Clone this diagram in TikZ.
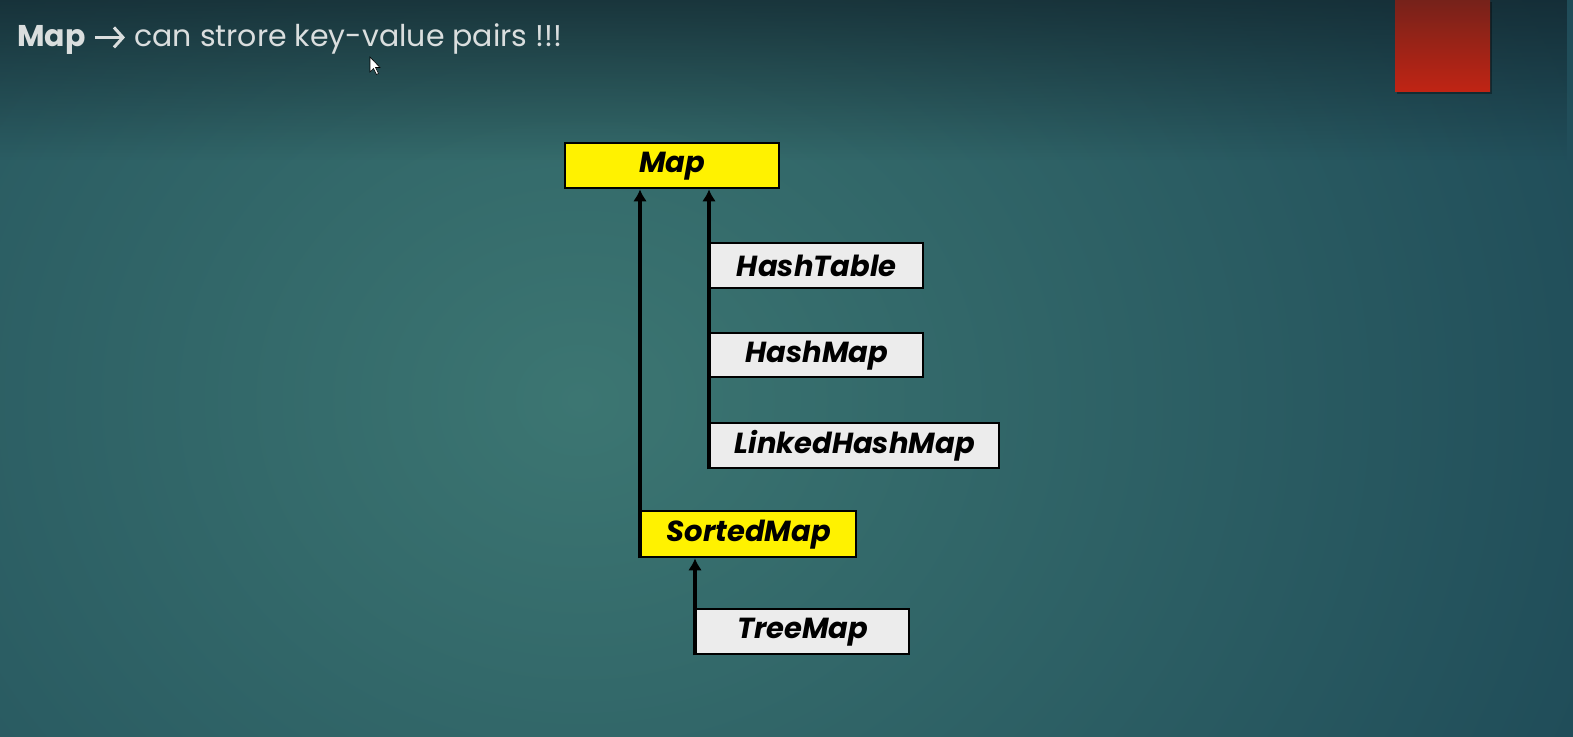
\documentclass[tikz,border=0pt]{standalone}
\usepackage{fontspec}
\setmainfont{Poppins}
\usetikzlibrary{arrows.meta,fadings}

\definecolor{bgmid}{RGB}{60,118,114}
\definecolor{bgedge}{RGB}{22,62,80}
\definecolor{bgtop}{RGB}{16,34,42}
\definecolor{mapyellow}{RGB}{255,242,0}
\definecolor{classgray}{RGB}{236,236,236}
\definecolor{titlegray}{RGB}{218,222,222}
\definecolor{redtop}{RGB}{118,34,26}
\definecolor{redbot}{RGB}{192,36,20}

\tikzset{
  iface/.style={draw=black,line width=2.4pt,fill=mapyellow,anchor=north west,
    inner sep=0pt,font=\fontsize{29}{31}\selectfont\bfseries\itshape},
  cls/.style={iface,fill=classgray},
  inherit/.style={-{Latex[length=12pt,width=14pt]},line width=3.8pt},
}

\begin{document}
\begin{tikzpicture}[x=1pt,y=-1pt]
% background
\useasboundingbox (0,0) rectangle (1573,736);
\begin{scope}
\clip (0,0) rectangle (1573,736);
\fill[bgedge] (0,0) rectangle (1573,736);
\shade[inner color=bgmid,outer color=bgedge] (580,400) ellipse (1450pt and 1250pt);
\fill[bgtop,opacity=0.7,path fading=south] (0,0) rectangle (1573,160);
\end{scope}
\fill[black,opacity=0.35] (1397,2) rectangle (1492,94);
\shade[top color=redtop,bottom color=redbot] (1395,0) rectangle (1490,91);

% title
\node[anchor=west,text=titlegray,font=\fontsize{30}{32}\selectfont,inner sep=0pt] (title) at (17,39)
  {\textbf{Map} \tikz[baseline=-9pt]\draw[titlegray,line width=3pt,-{Straight Barb[length=9pt,width=20pt]}] (0pt,0pt) -- (30pt,0pt); can strore key-value pairs !!!};
\draw[fill=white,draw=black,line width=0.6pt] (370,57) -- (370,72) -- (373.5,68.5)
  -- (376.5,74.5) -- (378.5,73.5) -- (375.5,67.5) -- (380,67.5) -- cycle;

% classes
\node[iface,minimum width=214pt,minimum height=45pt] (map) at (564,142) {Map};
\node[cls,minimum width=213pt,minimum height=45pt] (hashtable) at (709,242) {HashTable};
\node[cls,minimum width=213pt,minimum height=44pt] (hashmap) at (709,332) {HashMap};
\node[cls,minimum width=289pt,minimum height=45pt] (linked) at (709,422) {LinkedHashMap};
\node[iface,minimum width=215pt,minimum height=46pt] (sorted) at (640,510) {SortedMap};
\node[cls,minimum width=213pt,minimum height=45pt] (tree) at (695,608) {TreeMap};

\draw[inherit] (sorted.south west) -- (sorted.south west |- map.south);
\draw[inherit] (linked.south west) -- (linked.south west |- map.south);
\draw[inherit] (tree.south west) -- (tree.south west |- sorted.south);
\end{tikzpicture}
\end{document}
